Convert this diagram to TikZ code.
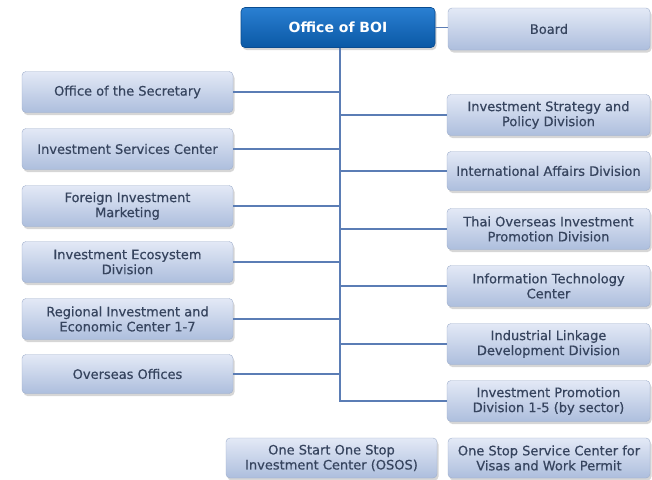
\documentclass[tikz,border=0pt]{standalone}
\usepackage{fontspec}
\setmainfont{DejaVu Sans}
\newfontfamily\boxfont[FakeBold=0.5]{DejaVu Sans}
\usetikzlibrary{shadows}
\definecolor{boxtop}{HTML}{E3E9F6}
\definecolor{boxbot}{HTML}{ADBEDD}
\definecolor{boxedge}{HTML}{9FAFCC}
\definecolor{txt}{HTML}{36445E}
\definecolor{linec}{HTML}{5B7DB5}
\definecolor{boitop}{HTML}{2A80D2}
\definecolor{boibot}{HTML}{0A58A5}
\definecolor{boiedge}{HTML}{0A4C90}
\tikzset{
  unit/.style={rectangle, rounded corners=4pt, top color=boxtop, bottom color=boxbot,
    draw=boxedge, line width=0.4pt, text=txt, align=center, inner sep=1pt,
    font=\boxfont\fontsize{13}{15}\selectfont,
    drop shadow={shadow xshift=1.5pt, shadow yshift=-2.5pt, fill=black!45, opacity=0.35}},
  lbox/.style={unit, minimum width=211pt, minimum height=41pt},
  rbox/.style={unit, minimum width=203pt, minimum height=41pt},
  headbox/.style={rectangle, rounded corners=4pt, top color=boitop, bottom color=boibot,
    draw=boiedge, line width=0.6pt, text=white, align=center,
    font=\fontsize{14}{16}\selectfont\bfseries, minimum width=194pt, minimum height=40pt,
    drop shadow={shadow xshift=1.5pt, shadow yshift=-2.5pt, fill=black!45, opacity=0.35}},
  conn/.style={draw=linec, line width=1.3pt}
}
\begin{document}
\begin{tikzpicture}[x=1pt,y=-1pt]
\useasboundingbox (0,0) rectangle (652,479);
\fill[white] (0,0) rectangle (652,479);
\node[headbox] (boi) at (338,27.5) {Office of BOI};
\node[rbox, minimum width=202pt, minimum height=42pt] (board) at (549,29) {Board};
\node[lbox] (sec) at (127.5,92) {Office of the Secretary};
\node[lbox] (isc) at (127.5,149) {Investment Services Center};
\node[lbox] (fim) at (127.5,206) {Foreign Investment\\Marketing};
\node[lbox] (eco) at (127.5,262) {Investment Ecosystem\\Division};
\node[lbox] (reg) at (127.5,319) {Regional Investment and\\Economic Center 1-7};
\node[lbox, minimum height=39pt] (ovs) at (127.5,374) {Overseas Offices};
\node[rbox] (strat) at (548.5,115) {Investment Strategy and\\Policy Division};
\node[rbox, minimum height=39pt] (intl) at (548.5,171) {International Affairs Division};
\node[rbox] (thai) at (548.5,229) {Thai Overseas Investment\\Promotion Division};
\node[rbox] (itc) at (548.5,286) {Information Technology\\Center};
\node[rbox] (ind) at (548.5,344) {Industrial Linkage\\Development Division};
\node[rbox] (ipd) at (548.5,401) {Investment Promotion\\Division 1-5 (by sector)};
\node[lbox, minimum height=40pt] (osos) at (331.5,458) {One Start One Stop\\Investment Center (OSOS)};
\node[rbox, minimum width=202pt, minimum height=40pt] (visa) at (549,458) {One Stop Service Center for\\Visas and Work Permit};
\coordinate (tr) at (340,0);
\draw[conn] (boi.east) -- (boi.east -| board.west);
\draw[conn] (boi.south -| tr) -- (ipd.west -| tr) -- (ipd.west);
\foreach \n in {sec,isc,fim,eco,reg,ovs}{
  \draw[conn] (\n.east) -- (\n.east -| tr);
}
\foreach \n in {strat,intl,thai,itc,ind}{
  \draw[conn] (\n.west -| tr) -- (\n.west);
}
\end{tikzpicture}
\end{document}
